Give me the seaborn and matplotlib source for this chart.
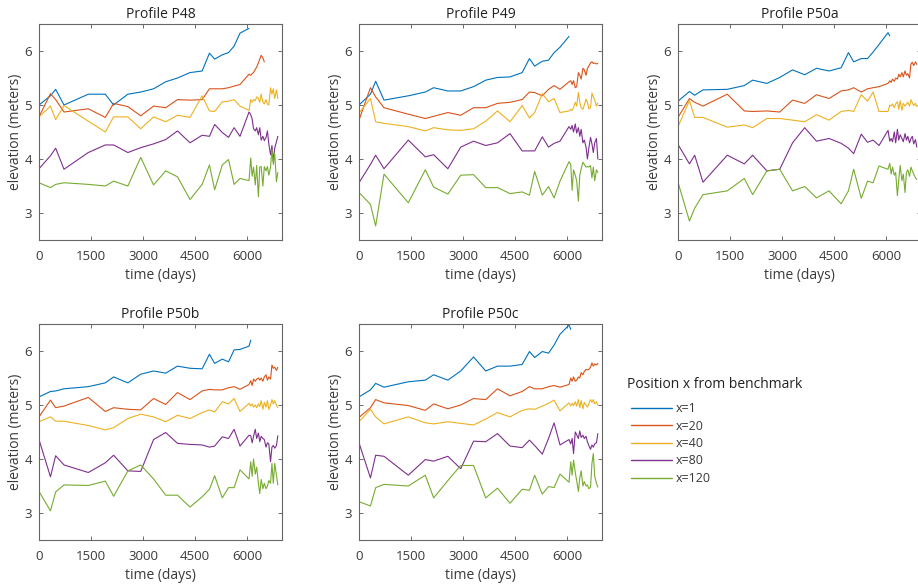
import numpy as np
import pandas as pd
import matplotlib
matplotlib.use("Agg")
import matplotlib.pyplot as plt
import seaborn as sns

nan = np.nan

# Survey dates (days since first survey): sparse surveys, then a denser recent campaign
t_survey = [0, 330, 480, 720, 1420, 1910, 2150, 2560, 2930, 3300, 3650,
            3990, 4350, 4700, 4910, 5060, 5280, 5460, 5620, 5790, 6050]
t_dense = [6100, 6140, 6180, 6230, 6270, 6320, 6360, 6400, 6450, 6490,
           6540, 6580, 6620, 6670, 6710, 6750, 6790, 6840, 6880]

profiles = ["P48", "P49", "P50a", "P50b", "P50c"]
positions = ["x=1", "x=20", "x=40", "x=80", "x=120"]

# ---- Profile P48 ----
p48_x1 = [5.0, 5.17, 5.29, 5.0, 5.2, 5.2, 5.0, 5.2, 5.24, 5.3, 5.43,
          5.5, 5.6, 5.63, 5.96, 5.85, 5.93, 5.97, 6.09, 6.33, 6.42,
          nan, nan, nan, nan, nan, nan, nan, nan, nan, nan,
          nan, nan, nan, nan, nan, nan, nan, nan, nan]
p48_x20 = [4.78, 5.21, 5.1, 4.87, 4.93, 4.77, 5.03, 4.97, 4.8, 4.98, 4.95,
           5.1, 5.09, 5.1, 5.3, 5.3, 5.3, 5.32, 5.35, 5.38, 5.57,
           5.55, 5.58, 5.6, 5.66, 5.7, 5.78, 5.85, 5.92, 5.87, 5.8,
           nan, nan, nan, nan, nan, nan, nan, nan, nan]
p48_x40 = [4.78, 4.98, 4.73, 4.99, 4.7, 4.5, 4.78, 4.78, 4.56, 4.78, 4.69,
           4.81, 4.77, 5.17, 4.89, 4.88, 5.06, 5.07, 5.1, 4.98, 4.9,
           5.1, 5.05, 5.1, 5.08, 5.15, 5.12, 5.05, 5.2, 5.05, 5.02,
           5.1, 5.02, 5.0, 5.32, 5.2, 5.3, 5.12, 5.28, 5.12]
p48_x80 = [3.82, 4.06, 4.2, 3.81, 4.12, 4.26, 4.26, 4.12, 4.21, 4.28, 4.36,
           4.52, 4.3, 4.44, 4.42, 4.64, 4.49, 4.4, 4.58, 4.42, 4.87,
           4.82, 4.74, 4.56, 4.52, 4.58, 4.45, 4.58, 4.35, 4.42, 4.34,
           4.4, 4.52, 4.28, 4.08, 4.25, 3.95, 4.2, 4.32, 4.42]
p48_x120 = [3.56, 3.47, 3.53, 3.56, 3.53, 3.5, 3.59, 3.5, 4.03, 3.52, 3.78,
            3.67, 3.25, 3.53, 3.89, 3.43, 3.89, 3.99, 3.53, 3.64, 3.6,
            4.02, 3.68, 3.85, 3.52, 3.88, 3.3, 3.85, 3.86, 3.5, 3.86,
            3.78, 3.86, 3.7, 3.85, 4.18, 3.9, 4.1, 3.58, 3.75]

# ---- Profile P49 ----
p49_x1 = [5.0, 5.2, 5.44, 5.09, 5.17, 5.24, 5.32, 5.26, 5.26, 5.34, 5.46,
          5.51, 5.52, 5.6, 5.86, 5.72, 5.81, 5.83, 5.97, 6.07, 6.27,
          nan, nan, nan, nan, nan, nan, nan, nan, nan, nan,
          nan, nan, nan, nan, nan, nan, nan, nan, nan]
p49_x20 = [4.72, 5.32, 5.15, 4.95, 4.83, 4.75, 4.79, 4.86, 4.81, 4.95, 4.95,
           5.03, 5.05, 5.1, 5.24, 5.23, 5.17, 5.29, 5.36, 5.29, 5.43,
           5.45, 5.38, 5.45, 5.32, 5.34, 5.6, 5.55, 5.48, 5.68, 5.65,
           5.55, 5.68, 5.72, 5.78, 5.8, 5.77, 5.78, 5.76, 5.77]
p49_x40 = [4.85, 5.12, 4.69, 4.66, 4.6, 4.52, 4.58, 4.54, 4.53, 4.56, 4.7,
           4.89, 4.69, 4.99, 4.76, 4.86, 5.21, 5.06, 5.12, 4.86, 4.89,
           4.92, 4.9, 4.95, 5.05, 4.98, 5.23, 5.05, 4.95, 4.92, 5.0,
           5.11, 5.05, 4.93, 4.95, 5.22, 5.15, 5.1, 4.98, 5.04]
p49_x80 = [3.56, 3.9, 4.07, 3.82, 4.35, 4.04, 4.08, 3.82, 4.22, 4.33, 4.25,
           4.3, 4.47, 4.15, 4.15, 4.15, 4.41, 4.22, 4.29, 4.33, 4.6,
           4.55, 4.62, 4.5, 4.65, 4.48, 4.58, 4.42, 4.55, 4.3, 4.35,
           4.22, 4.0, 4.2, 4.4, 4.28, 4.12, 4.3, 4.38, 4.0]
p49_x120 = [3.38, 3.16, 2.76, 3.72, 3.19, 3.8, 3.48, 3.35, 3.7, 3.71, 3.47,
            3.47, 3.36, 3.39, 3.33, 3.77, 3.33, 3.49, 3.28, 3.59, 3.95,
            3.9, 3.42, 3.8, 3.7, 3.6, 3.22, 3.7, 3.82, 3.94, 3.9,
            3.85, 3.86, 3.85, 3.88, 3.65, 3.85, 3.6, 3.8, 3.75]

# ---- Profile P50a ----
p50a_x1 = [5.07, 5.25, 5.18, 5.28, 5.29, 5.36, 5.46, 5.4, 5.51, 5.65, 5.56,
           5.68, 5.63, 5.69, 5.97, 5.8, 5.86, 5.86, 5.98, 6.12, 6.34,
           6.28, nan, nan, nan, nan, nan, nan, nan, nan, nan,
           nan, nan, nan, nan, nan, nan, nan, nan, nan]
p50a_x20 = [4.77, 5.12, 5.05, 4.98, 5.2, 4.89, 4.88, 4.89, 4.87, 5.09, 5.03,
            5.19, 5.12, 5.26, 5.28, 5.32, 5.24, 5.3, 5.32, 5.34, 5.4,
            5.45, 5.42, 5.48, 5.44, 5.5, 5.48, 5.57, 5.52, 5.6, 5.52,
            5.63, 5.55, 5.58, 5.5, 5.76, 5.79, 5.73, 5.8, 5.75]
p50a_x40 = [4.6, 5.08, 4.77, 4.77, 4.59, 4.63, 4.58, 4.75, 4.75, 4.72, 4.69,
            4.82, 4.72, 4.88, 4.9, 4.88, 5.19, 5.07, 5.24, 4.88, 4.88,
            5.0, 4.98, 5.02, 4.95, 5.02, 5.06, 4.92, 5.08, 4.9, 5.03,
            4.98, 5.02, 5.05, 4.98, 5.1, 5.04, 4.99, 5.03, 4.97]
p50a_x80 = [4.27, 3.91, 4.07, 3.57, 4.07, 3.91, 4.07, 3.78, 3.81, 4.3, 4.58,
            4.33, 4.38, 4.29, 4.2, 4.1, 4.46, 4.31, 4.35, 4.25, 4.53,
            4.33, 4.38, 4.32, 4.5, 4.3, 4.55, 4.35, 4.45, 4.38, 4.32,
            4.47, 4.35, 4.42, 4.3, 4.38, 4.42, 4.28, 4.36, 4.22]
p50a_x120 = [3.57, 2.85, 3.09, 3.34, 3.41, 3.64, 3.34, 3.78, 3.81, 3.41, 3.49,
             3.28, 3.41, 3.17, 3.41, 3.81, 3.27, 3.59, 3.56, 3.87, 3.81,
             3.92, 3.72, 3.85, 3.7, 3.75, 3.32, 3.62, 3.88, 3.6, 3.72,
             3.38, 3.75, 3.8, 3.68, 3.85, 3.78, 3.72, 3.65, 3.62]

# ---- Profile P50b ----
p50b_x1 = [5.15, 5.25, 5.26, 5.3, 5.34, 5.41, 5.52, 5.41, 5.57, 5.63, 5.59,
           5.72, 5.68, 5.67, 5.94, 5.77, 5.85, 5.8, 6.02, 6.03, 6.09,
           6.2, nan, nan, nan, nan, nan, nan, nan, nan, nan,
           nan, nan, nan, nan, nan, nan, nan, nan, nan]
p50b_x20 = [4.78, 5.09, 4.95, 4.98, 5.14, 4.88, 4.95, 4.92, 4.91, 5.12, 5.01,
            5.23, 5.1, 5.26, 5.29, 5.28, 5.28, 5.32, 5.34, 5.29, 5.38,
            5.45, 5.36, 5.48, 5.44, 5.48, 5.5, 5.46, 5.5, 5.44, 5.52,
            5.56, 5.46, 5.52, 5.48, 5.74, 5.68, 5.7, 5.64, 5.7]
p50b_x40 = [4.69, 4.78, 4.7, 4.7, 4.62, 4.54, 4.58, 4.75, 4.83, 4.78, 4.69,
            4.81, 4.75, 4.86, 4.91, 4.87, 5.06, 5.02, 5.12, 4.88, 5.03,
            4.98, 5.02, 4.96, 5.0, 4.95, 5.02, 4.97, 5.08, 4.92, 5.05,
            4.96, 5.08, 4.92, 5.0, 5.1, 5.02, 5.08, 5.0, 4.95]
p50b_x80 = [4.36, 3.67, 4.06, 3.89, 3.75, 3.93, 4.07, 3.78, 3.77, 4.36, 4.49,
            4.29, 4.27, 4.26, 4.22, 4.24, 4.41, 4.38, 4.55, 4.24, 4.44,
            4.43, 4.3, 4.42, 4.55, 4.38, 4.48, 4.32, 4.42, 4.38, 4.36,
            4.22, 4.3, 4.28, 3.95, 4.22, 4.25, 4.2, 4.25, 4.43]
p50b_x120 = [3.4, 3.04, 3.39, 3.52, 3.51, 3.59, 3.31, 3.78, 3.89, 3.63, 3.33,
             3.33, 3.11, 3.3, 3.44, 3.69, 3.28, 3.47, 3.47, 3.8, 3.63,
             3.95, 3.68, 4.0, 3.72, 3.85, 3.55, 3.36, 3.62, 3.45, 3.55,
             3.45, 3.5, 3.6, 3.55, 3.92, 3.55, 3.92, 3.7, 3.52]

# ---- Profile P50c ----
p50c_x1 = [5.15, 5.28, 5.4, 5.33, 5.43, 5.46, 5.56, 5.46, 5.63, 5.89, 5.63,
           5.72, 5.72, 5.75, 5.99, 5.88, 5.99, 5.96, 6.11, 6.31, 6.48,
           6.4, nan, nan, nan, nan, nan, nan, nan, nan, nan,
           nan, nan, nan, nan, nan, nan, nan, nan, nan]
p50c_x20 = [4.77, 4.95, 5.1, 5.04, 4.99, 4.9, 5.02, 4.93, 5.0, 5.12, 5.1,
            5.3, 5.17, 5.25, 5.34, 5.3, 5.3, 5.34, 5.36, 5.33, 5.38,
            5.5, 5.44, 5.52, 5.44, 5.46, 5.52, 5.5, 5.6, 5.56, 5.62,
            5.66, 5.65, 5.66, 5.7, 5.78, 5.72, 5.76, 5.74, 5.77]
p50c_x40 = [4.69, 4.92, 4.78, 4.65, 4.78, 4.67, 4.65, 4.69, 4.66, 4.63, 4.74,
            4.86, 4.78, 4.9, 4.93, 4.92, 4.98, 5.03, 5.09, 4.89, 5.04,
            4.98, 5.03, 4.99, 5.06, 4.98, 5.1, 4.95, 5.08, 4.93, 5.05,
            5.0, 4.96, 5.02, 5.1, 5.05, 5.1, 5.02, 5.06, 5.0]
p50c_x80 = [4.3, 3.65, 4.07, 4.05, 3.7, 3.99, 3.96, 4.05, 3.82, 4.33, 4.32,
            4.47, 4.24, 4.21, 4.35, 4.25, 4.09, 4.38, 4.67, 4.26, 4.36,
            4.28, 4.38, 4.1, 4.5, 4.45, 4.38, 4.52, 4.4, 4.44, 4.38,
            4.42, 4.32, 4.25, 4.18, 4.26, 4.22, 4.28, 4.3, 4.47]
p50c_x120 = [3.21, 3.13, 3.47, 3.53, 3.5, 3.7, 3.28, 3.6, 3.88, 3.88, 3.28,
             3.46, 3.18, 3.44, 3.42, 3.7, 3.35, 3.49, 3.47, 3.72, 3.57,
             3.95, 3.7, 3.98, 3.75, 3.6, 3.4, 3.65, 3.78, 3.5, 3.58,
             3.5, 3.52, 3.45, 3.48, 3.92, 4.1, 3.68, 3.55, 3.48]

series = {
    "P48": [p48_x1, p48_x20, p48_x40, p48_x80, p48_x120],
    "P49": [p49_x1, p49_x20, p49_x40, p49_x80, p49_x120],
    "P50a": [p50a_x1, p50a_x20, p50a_x40, p50a_x80, p50a_x120],
    "P50b": [p50b_x1, p50b_x20, p50b_x40, p50b_x80, p50b_x120],
    "P50c": [p50c_x1, p50c_x20, p50c_x40, p50c_x80, p50c_x120],
}

times = t_survey + t_dense
rows = []
for prof in profiles:
    for pos, vals in zip(positions, series[prof]):
        for t, v in zip(times, vals):
            rows.append((prof, pos, t, v))
df = pd.DataFrame(rows, columns=["profile", "position", "time", "elevation"])
df = df.dropna()

colors = ["#0072BD", "#D95319", "#EDB120", "#7E2F8E", "#77AC30"]
palette = dict(zip(positions, colors))

sns.set_theme(style="ticks")
plt.rcParams["font.family"] = ["Open Sans", "DejaVu Sans"]

fig = plt.figure(figsize=(9.18, 5.86), dpi=100)

W, H = 918, 586
axw, axh = 243, 216
lefts = [39, 359, 678]
tops = [24, 324]
grid_pos = [(0, 0), (0, 1), (0, 2), (1, 0), (1, 1)]

txt_col = "#3a3a3a"
for prof, (r, c) in zip(profiles, grid_pos):
    ax = fig.add_axes([lefts[c] / W, 1 - (tops[r] + axh) / H, axw / W, axh / H])
    sub = df[df["profile"] == prof]
    sns.lineplot(data=sub, x="time", y="elevation", hue="position",
                 hue_order=positions, palette=palette, estimator=None,
                 sort=False, legend=False, linewidth=0.8, ax=ax)
    ax.set_xlim(0, 7000)
    ax.set_ylim(2.5, 6.5)
    ax.set_xticks([0, 1500, 3000, 4500, 6000])
    ax.set_yticks([3, 4, 5, 6])
    ax.tick_params(direction="in", length=3, width=0.6, top=True, right=True,
                   labelsize=9.5, colors="#555555", labelcolor=txt_col)
    ax.tick_params(axis="x", pad=7)
    ax.tick_params(axis="y", pad=5)
    for s in ax.spines.values():
        s.set_color("#666666")
        s.set_linewidth(0.8)
    ax.set_xlabel("time (days)", fontsize=10, color=txt_col, labelpad=4)
    ax.set_ylabel("elevation (meters)", fontsize=10, color=txt_col, labelpad=1)
    ax.set_title(f"Profile {prof}", fontsize=10, color="#222222", pad=4)

# Legend placed in the empty sixth slot
fig.text(627 / W, 1 - 385 / H, "Position x from benchmark", fontsize=10,
         color="#222222", ha="left", va="center")
handles = [plt.Line2D([], [], color=col, linewidth=1.0) for col in colors]
leg = fig.legend(handles, positions, loc="upper left",
                 bbox_to_anchor=(626 / W, 1 - 397 / H),
                 frameon=False, fontsize=9,
                 handlelength=3.3, handletextpad=0.3, labelspacing=0.36,
                 borderaxespad=0)
for t in leg.get_texts():
    t.set_color(txt_col)

fig.savefig("out.png", dpi=100)
